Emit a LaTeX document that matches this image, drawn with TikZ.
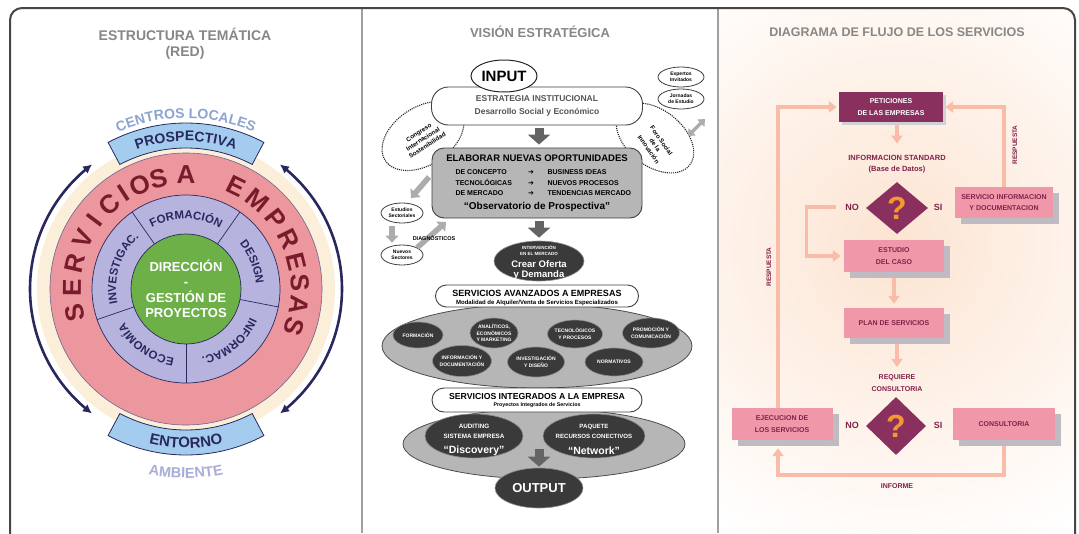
\documentclass[tikz,border=0pt]{standalone}
\usepackage{fontspec}
\setmainfont{Liberation Sans}
\newfontfamily\dejavu{DejaVu Sans}
\usetikzlibrary{shapes.geometric,arrows.meta,decorations.text,shadows}
\definecolor{pinkring}{RGB}{236,150,158}
\definecolor{lav}{RGB}{182,180,222}
\definecolor{greenc}{RGB}{110,176,72}
\definecolor{cream}{RGB}{252,239,218}
\definecolor{lblue}{RGB}{164,204,238}
\definecolor{navy}{RGB}{40,40,95}
\definecolor{maroon}{RGB}{120,28,44}
\definecolor{ltxt}{RGB}{140,164,208}
\definecolor{ambc}{RGB}{168,174,214}
\definecolor{titlegrey}{RGB}{135,135,135}
\definecolor{plum}{RGB}{138,48,94}
\definecolor{pinkbox}{RGB}{240,152,170}
\definecolor{salmon}{RGB}{248,188,168}
\definecolor{shadowg}{RGB}{190,188,194}
\definecolor{qorange}{RGB}{244,152,48}
\definecolor{plumtxt}{RGB}{128,34,74}
\definecolor{peach}{RGB}{252,228,210}
\definecolor{midgrey}{RGB}{182,182,182}
\definecolor{darkell}{RGB}{58,58,58}
\definecolor{arrowgrey}{RGB}{100,100,100}
\definecolor{lightarrow}{RGB}{172,172,172}
\definecolor{framec}{RGB}{70,70,70}
\definecolor{divc}{RGB}{160,160,160}
\definecolor{strattxt}{RGB}{85,85,85}
\pgfdeclarelayer{bg}
\pgfdeclarelayer{conn}
\pgfsetlayers{bg,conn,main}
\newcommand\myfs[1]{\fontsize{#1}{#1}\selectfont\bfseries}
\newcommand\myfsb[2]{\fontsize{#1}{#2}\selectfont\bfseries}
\newcommand\segfont{\fontsize{11.5}{11.5}\selectfont\bfseries\color{navy}}
\newcommand\banfont{\fontsize{14}{14}\selectfont\bfseries\color{navy}}
\newcommand\entfont{\fontsize{15}{15}\selectfont\bfseries\color{navy}}
\newcommand\cenfont{\fontsize{14}{14}\selectfont\bfseries\color{ltxt}}
\newcommand\ambfont{\fontsize{14.5}{14.5}\selectfont\bfseries\color{ambc}}
\newcommand\ArcTxt[5]{\path[decorate,decoration={text along path,text align=center,text={|#4|#5}}] plot[domain=0:1,samples=60,variable=\t] ({186+#3*cos(#1+(#2-(#1))*\t)},{289-#3*sin(#1+(#2-(#1))*\t)});}
\tikzset{
  ttl/.style={text=titlegrey},
  flow/.style={draw=salmon, line width=3.5pt, -{Triangle[width=11pt,length=8pt]}, shorten >=2pt},
  pbox/.style={fill=pinkbox, text=plumtxt, align=center, font=\myfsb{7}{11.5}, drop shadow={shadow xshift=6pt, shadow yshift=-6pt, fill=shadowg, opacity=1}},
  ptxt/.style={text=plumtxt, align=center},
  qdia/.style={diamond, fill=plum, inner sep=0pt, text=qorange, font=\myfs{32}},
  blockarrow/.style={draw=arrowgrey, line width=9pt, -{Triangle[width=22pt,length=10pt]}, shorten <=3pt, shorten >=3pt},
  lightarr/.style={draw=lightarrow, line width=5.5pt},
  dell/.style={ellipse, fill=darkell, draw=black!45, line width=0.6pt, inner sep=0pt},
  dtxt/.style={text=white, align=center},
  smallell/.style={ellipse, draw=black!75, line width=0.8pt, fill=white, inner sep=0pt, align=center, font=\myfsb{5}{6.4}},
  whitebox/.style={draw=black!75, line width=0.9pt, fill=white},
  bigell/.style={ellipse, fill=midgrey, draw=black!70, line width=0.8pt, inner sep=0pt},
  dotell/.style={ellipse, draw=black!85, densely dotted, line width=1.1pt, inner sep=0pt},
  navarrow/.style={navy, line width=2.6pt, {Latex[length=9pt,width=9pt]}-{Latex[length=9pt,width=9pt]}},
}
\begin{document}
\begin{tikzpicture}[x=1pt,y=-1pt]
\useasboundingbox (0,0) rectangle (1079,533);
\begin{pgfonlayer}{bg}
\fill[white] (0,0) rectangle (1079,533);
\begin{scope}
\clip (719,9) rectangle (1074,533);
\shade[inner color=peach, outer color=white] (895,245) circle[radius=330];
\end{scope}
\end{pgfonlayer}

% ================= LEFT PANEL =================
\node[ttl, font=\myfs{14}] (t1) at (185,34) {ESTRUCTURA TEMÁTICA};
\node[ttl, font=\myfs{14}] (t1b) at (185,53) {(RED)};
\fill[cream] (186,289) circle[radius=149];
\draw[navarrow] plot[domain=0:1,samples=60,variable=\t] ({186+156*cos(127+106*\t)},{289-156*sin(127+106*\t)});
\draw[navarrow] plot[domain=0:1,samples=60,variable=\t] ({186+156*cos(53-106*\t)},{289-156*sin(53-106*\t)});
\filldraw[fill=lblue, draw=navy, line width=0.8pt] plot[domain=0:1,samples=30,variable=\t] ({186+166*cos(118-56*\t)},{289-166*sin(118-56*\t)}) -- plot[domain=0:1,samples=30,variable=\t] ({186+141*cos(62+56*\t)},{289-141*sin(62+56*\t)}) -- cycle;
\filldraw[fill=lblue, draw=navy, line width=0.8pt] plot[domain=0:1,samples=30,variable=\t] ({186+166*cos(242+56*\t)},{289-166*sin(242+56*\t)}) -- plot[domain=0:1,samples=30,variable=\t] ({186+141*cos(298-56*\t)},{289-141*sin(298-56*\t)}) -- cycle;
\filldraw[fill=pinkring, draw=navy!70, line width=0.6pt] (186,289) circle[radius=136];
\filldraw[fill=lav, draw=navy, line width=0.7pt] (186,289) circle[radius=94];
\foreach \a in {125,55,-11,-90,-161}
  \draw[navy, line width=0.7pt] ({186+55*cos(\a)},{289-55*sin(\a)}) -- ({186+94*cos(\a)},{289-94*sin(\a)});
\node[circle, fill=greenc, draw=navy, line width=0.7pt, minimum size=110pt, inner sep=0pt, text=white, align=center, font=\myfsb{13}{15.5}] (dir) at (186,289) {DIRECCIÓN\\-\\GESTIÓN DE\\PROYECTOS};
\ArcTxt{140}{40}{171}{\cenfont}{CENTROS LOCALES}
\ArcTxt{125}{55}{148}{\banfont}{PROSPECTIVA}
\ArcTxt{230}{310}{159}{\entfont}{ENTORNO}
\ArcTxt{225}{315}{189}{\ambfont}{AMBIENTE}
\ArcTxt{125}{55}{70}{\segfont}{FORMACIÓN}
\ArcTxt{55}{-11}{70}{\segfont}{DESIGN}
\ArcTxt{-11}{-90}{70}{\segfont}{INFORMAC.}
\ArcTxt{-90}{-161}{70}{\segfont}{ECONOMÍA}
\ArcTxt{199}{125}{70}{\segfont}{INVESTIGAC.}
\foreach \l/\a [count=\i] in {S/192,E/179.5,R/167,V/154,I/143,C/132,I/123,O/114,S/104,A/90,E/64,M/51,P/38,R/26,E/14,S/3,A/-8,S/-19}
  \node[rotate=\a-90, text=maroon, font=\myfs{26}, inner sep=0pt] (sv\i) at ({186+114*cos(\a)},{289-114*sin(\a)}) {\l};

% ================= MIDDLE PANEL =================
\node[ttl, font=\myfs{13}] (t2) at (540,32) {VISIÓN ESTRATÉGICA};
\node[dotell, minimum width=90pt, minimum height=58pt, rotate=33] (cong) at (423,136) {};
\node[rotate=33, align=center, font=\myfsb{6.2}{7.8}] (congt) at (423,139) {Congreso\\Internacional\\Sostenibilidad};
\node[dotell, minimum width=88pt, minimum height=56pt, rotate=-38] (foro) at (655,138) {};
\node[rotate=-55, align=center, font=\myfsb{6.2}{7.8}] (forot) at (655,145) {Foro Social\\de la\\Innovación};
\node[whitebox, rounded corners=17pt, minimum width=211pt, minimum height=38pt, align=center, text=strattxt, font=\myfsb{8.5}{13}] (estr) at (537,106) {ESTRATEGIA INSTITUCIONAL\\Desarrollo Social y Económico};
\node[ellipse, draw=black!85, line width=1pt, fill=white, minimum width=66pt, minimum height=32pt, inner sep=0pt, font=\myfs{15}] (input) at (504,76) {INPUT};
\node[smallell, minimum width=46pt, minimum height=20pt] (expert) at (681,77) {Expertos\\Invitados};
\node[smallell, minimum width=46pt, minimum height=20pt] (jorn) at (681,99) {Jornadas\\de Estudio};
\coordinate (da1) at (688,136);
\coordinate (da2) at (705,119);
\draw[lightarr, line width=3.5pt, {Triangle[width=10pt,length=6pt]}-{Triangle[width=10pt,length=6pt]}] (da1) -- (da2);

\node[rounded corners=12pt, draw=black!75, line width=0.9pt, fill=midgrey, minimum width=210pt, minimum height=70pt] (elab) at (537,183) {};
\node[font=\myfs{9.5}] (elab1) at (537,158) {ELABORAR NUEVAS OPORTUNIDADES};
\foreach \y/\a/\b [count=\i] in {174.5/DE CONCEPTO/BUSINESS IDEAS,185/TECNOLÓGICAS/NUEVOS PROCESOS,195.5/DE MERCADO/TENDENCIAS MERCADO} {
  \node[anchor=base west, font=\myfs{7}] (ra\i) at (452,\y) {\a};
  \node[anchor=base, font=\dejavu\fontsize{7}{7}\selectfont] (rb\i) at (531,\y) {➔};
  \node[anchor=base west, font=\myfs{7}] (rc\i) at (544,\y) {\b};
}
\node[font=\myfs{10}] (obs) at (537,207) {``Observatorio de Prospectiva''};
\draw[blockarrow] ([xshift=2pt]estr.south) -- ([xshift=2pt]elab.north);

\node[dell, minimum width=90pt, minimum height=40pt] (crear) at (539,261) {};
\node[dtxt, font=\myfsb{4.5}{6}] (crear1) at (539,251) {INTERVENCIÓN\\EN EL MERCADO};
\node[dtxt, font=\myfsb{9.5}{10}] (crear2) at (539,270.5) {Crear Oferta\\y Demanda};
\draw[blockarrow] ([xshift=2pt]elab.south) -- (crear.north);

\node[smallell, minimum width=42pt, minimum height=20pt] (estud) at (402,213) {Estudios\\Sectoriales};
\node[smallell, minimum width=42pt, minimum height=20pt] (nuev) at (402,255) {Nuevos\\Sectores};
\coordinate (la1) at (429,177);
\coordinate (la2) at (411,198);
\coordinate (la4) at (446,222);
\draw[lightarr, -{Triangle[width=13pt,length=7pt]}] (la1) -- (la2);
\draw[lightarr, -{Triangle[width=13pt,length=7pt]}, shorten <=3pt, shorten >=2pt] ([xshift=-10pt]estud.south) -- ([xshift=-10pt]nuev.north);
\draw[lightarr, -{Triangle[width=13pt,length=7pt]}] (nuev.north east) -- (la4);
\node[font=\myfs{5.5}] (diag) at (434,238) {DIAGNÓSTICOS};

\node[bigell, minimum width=310pt, minimum height=84pt] (bige1) at (537,346) {};
\node[whitebox, rounded corners=11pt, minimum width=203pt, minimum height=22pt] (avz) at (537,296) {};
\node[font=\myfs{9}] (avz1) at (537,293) {SERVICIOS AVANZADOS A EMPRESAS};
\node[font=\myfs{6}] (avz2) at (537,303) {Modalidad de Alquiler/Venta de Servicios Especializados};
\node[dell, minimum width=50pt, minimum height=26pt] (s1) at (418,335) {};
\node[dell, minimum width=48pt, minimum height=30pt] (s2) at (494,333) {};
\node[dell, minimum width=55pt, minimum height=28pt] (s3) at (575,334) {};
\node[dell, minimum width=57pt, minimum height=30pt] (s4) at (651,333) {};
\node[dell, minimum width=59pt, minimum height=31pt] (s5) at (462,361) {};
\node[dell, minimum width=57pt, minimum height=30pt] (s6) at (536,362) {};
\node[dell, minimum width=58pt, minimum height=28pt] (s7) at (614,362) {};
\node[dtxt, font=\myfsb{5}{6.4}] (s1t) at (s1) {FORMACIÓN};
\node[dtxt, font=\myfsb{5}{6.4}] (s2t) at (s2) {ANALÍTICOS,\\ECONÓMICOS\\Y MARKETING};
\node[dtxt, font=\myfsb{5}{6.4}] (s3t) at (s3) {TECNOLÓGICOS\\Y PROCESOS};
\node[dtxt, font=\myfsb{5}{6.4}] (s4t) at (s4) {PROMOCIÓN Y\\COMUNICACIÓN};
\node[dtxt, font=\myfsb{5}{6.4}] (s5t) at (s5) {INFORMACIÓN Y\\DOCUMENTACIÓN};
\node[dtxt, font=\myfsb{5}{6.4}] (s6t) at (s6) {INVESTIGACIÓN\\Y DISEÑO};
\node[dtxt, font=\myfsb{5}{6.4}] (s7t) at (s7) {NORMATIVOS};

\node[bigell, minimum width=282pt, minimum height=70pt] (bige2) at (544,444) {};
\node[whitebox, rounded corners=12pt, minimum width=210pt, minimum height=24pt] (integ) at (537,400) {};
\node[font=\myfs{8.7}] (integ1) at (537,396) {SERVICIOS INTEGRADOS A LA EMPRESA};
\node[font=\myfs{5.3}] (integ2) at (537,405) {Proyectos Integrados de Servicios};
\node[dell, minimum width=98pt, minimum height=44pt] (disc) at (474,436) {};
\node[dtxt, font=\myfsb{6.3}{10}] (disc1) at (474,431) {AUDITING\\SISTEMA EMPRESA};
\node[dtxt, font=\myfs{10.5}] (disc2) at (474,451) {``Discovery''};
\node[dell, minimum width=102pt, minimum height=44pt] (netw) at (594,436) {};
\node[dtxt, font=\myfsb{6.1}{10}] (netw1) at (594,431) {PAQUETE\\RECURSOS CONECTIVOS};
\node[dtxt, font=\myfs{10.5}] (netw2) at (594,451) {``Network''};
\node[dell, minimum width=88pt, minimum height=40pt, text=white, font=\myfs{13}] (output) at (539,488) {OUTPUT};
\coordinate (oa) at (539,449);
\draw[blockarrow, shorten <=0pt, shorten >=1pt] (oa) -- (output.north);

% ================= RIGHT PANEL =================
\node[ttl, font=\myfs{12.5}] (t3) at (897,32) {DIAGRAMA DE FLUJO DE LOS SERVICIOS};
\node[fill=plum, text=white, align=center, font=\myfsb{7}{12}, minimum width=104pt, minimum height=30pt, drop shadow={shadow xshift=3pt, shadow yshift=-3pt, fill=shadowg!70, opacity=1}] (pet) at (891,107) {PETICIONES\\DE LAS EMPRESAS};
\node[ptxt, font=\myfsb{7.5}{11}] (infs) at (897,164) {INFORMACION STANDARD\\(Base de Datos)};
\node[qdia, minimum width=62pt, minimum height=52pt] (d1) at (897,208) {?};
\node[ptxt, font=\myfs{9}] (no1) at (852,207) {NO};
\node[ptxt, font=\myfs{9}] (si1) at (938,207) {SI};
\node[pbox, minimum width=98pt, minimum height=31pt] (srv) at (1004,202.5) {SERVICIO INFORMACION\\Y DOCUMENTACION};
\node[pbox, minimum width=100pt, minimum height=32pt] (est) at (894,256) {ESTUDIO\\DEL CASO};
\node[pbox, minimum width=100pt, minimum height=30pt] (plan) at (894,323) {PLAN DE SERVICIOS};
\node[ptxt, font=\myfsb{7}{12}] (req) at (897,383) {REQUIERE\\CONSULTORIA};
\node[qdia, minimum width=60pt, minimum height=58pt] (d2) at (896,426) {?};
\node[ptxt, font=\myfs{9}] (no2) at (852,425) {NO};
\node[ptxt, font=\myfs{9}] (si2) at (938,425) {SI};
\node[pbox, minimum width=101pt, minimum height=32pt] (ejec) at (782,424) {EJECUCION DE\\LOS SERVICIOS};
\node[pbox, minimum width=102pt, minimum height=32pt] (cons) at (1004,424) {CONSULTORIA};
\node[ptxt, font=\myfs{7}] (inf) at (897,486) {INFORME};
\node[ptxt, font=\myfs{6.5}, rotate=90] (resp1) at (769,267) {RESPUESTA};
\node[ptxt, font=\myfs{6.5}, rotate=90] (resp2) at (1015,145) {RESPUESTA};
\begin{pgfonlayer}{conn}
\draw[flow, shorten >=8pt] (pet.south -| infs.north) -- (infs.north);
\draw[flow, shorten <=6pt, shorten >=3pt] (no1.west) -- ++(-35,0) |- (est.west);
\draw[flow, shorten >=4pt] (est.south) -- (plan.north);
\draw[flow, shorten >=4pt] (plan.south -| req.north) -- (req.north);
\draw[flow] (srv.north) |- (pet.east);
\draw[flow] ([xshift=-4pt]ejec.north) |- (pet.west);
\draw[flow, shorten >=8pt] (cons.south) -- ++(0,35) -| ([xshift=-4pt]ejec.south);
\end{pgfonlayer}

% ================= FRAME =================
\draw[divc, line width=2.5pt] (362,9) -- (362,533);
\draw[divc, line width=2.5pt] (718,9) -- (718,533);
\draw[framec, line width=2pt, rounded corners=12pt] (10,8) rectangle (1075,560);
\end{tikzpicture}
\end{document}
